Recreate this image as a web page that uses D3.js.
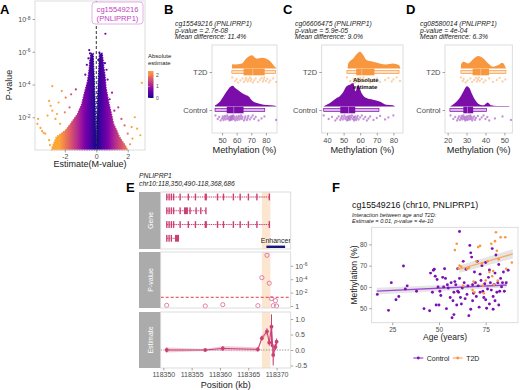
<!DOCTYPE html>
<html lang="en">
<head>
<meta charset="UTF-8">
<title>PNLIPRP1 methylation</title>
<script src="https://d3js.org/d3.v7.min.js"></script>
<style>
  body { margin: 0; background: #fff; }
  svg { font-family: "Liberation Sans", Arial, sans-serif; }
  .tick text { fill: #4d4d4d; font-size: 7px; }
  .tick line { stroke: #4d4d4d; stroke-width: 0.5; }
  .domain { display: none; }
  .frame { fill: none; stroke: #d4d4d4; stroke-width: 0.8; }
</style>
</head>
<body>
<div id="figure"></div>
<script>
// ---------- A: volcano ----------
// body of the volcano: spread of estimates at each -log10(p) level
const volcNlp   = [0, 0.2, 0.8, 1.2, 1.6, 2.2, 2.8, 3.4, 3.8, 4.2, 4.6, 5.0, 5.5, 5.9];
const volcLeft  = [-2.85, -2.8, -2.55, -1.96, -1.64, -1.2, -0.93, -0.78, -0.67, -0.56, -0.5, -0.45, -0.41, -0.34];
const volcRight = [2.0, 1.9, 1.48, 1.3, 1.1, 0.97, 0.82, 0.7, 0.62, 0.59, 0.55, 0.49, 0.43, 0.38];
const volcGap   = [0, 0, 0.01, 0.02, 0.03, 0.05, 0.07, 0.09, 0.11, 0.12, 0.14, 0.16, 0.18, 0.2];
// scattered CpGs outside the body [estimate, -log10 p]
const volcPoints = [
  [0.58, 7.1], [-0.45, 6.1], [-0.4, 5.9], [0.2, 5.95], [0.3, 5.8], [0.13, 5.5], [-0.5, 5.6],
  [0.55, 5.3], [-0.6, 5.2], [0.65, 4.9], [-0.7, 4.6], [0.72, 4.3],
  [-3.7, 1.9], [-3.75, 1.6], [-3.55, 1.35], [-3.45, 1.15], [-3.35, 1.05], [-3.25, 1.0],
  [-2.8, 3.9], [-2.2, 3.6], [-3.0, 3.0], [-2.9, 2.7], [-2.8, 2.4], [-1.95, 3.2], [-2.4, 2.9],
  [-1.6, 3.4], [-2.6, 1.9], [-2.5, 2.2], [-3.1, 2.1], [-2.3, 1.6], [-1.3, 3.7], [-1.7, 2.6],
  [-2.0, 2.3], [-3.0, 0.6], [-2.95, 0.3],
  [2.9, 4.1], [2.45, 2.0], [2.25, 1.4], [2.6, 1.3], [2.0, 1.0], [2.8, 0.9], [1.15, 2.4],
  [0.85, 3.1], [1.6, 1.9], [1.4, 2.6], [1.0, 3.5], [2.3, 0.7], [1.8, 1.5], [2.15, 0.35]
];
const volcXTicks = [-2, 0, 2];
const volcYTicks = [2, 4, 6, 8];
const legendTicks = [0, 1, 2];

// ---------- B-D: raincloud plots (methylation %) ----------
const groups = ["T2D", "Control"];
// B cg15549216
const bT2dDensX = [56.7, 57, 58.6, 63.6, 66.5, 70.5, 73.5, 77.4, 82, 84.3, 86.5, 87.2];
const bT2dDens  = [0, 0.2, 0.19, 0.24, 0.48, 0.64, 0.48, 0.52, 0.4, 0.24, 0.05, 0];
const bCtlDensX = [45.2, 48.6, 50.9, 53.2, 55.5, 57.4, 59.0, 61.3, 63.6, 65.9, 68.2, 70.5, 73.9, 78.5, 83.1, 87.0];
const bCtlDens  = [0.05, 0.24, 0.48, 0.73, 0.94, 1.0, 0.89, 0.77, 0.65, 0.56, 0.48, 0.29, 0.16, 0.08, 0.06, 0.02];
const bT2dBox = [56.7, 64.7, 71, 79.2, 86.5];
const bCtlBox = [45.2, 53.2, 58, 64.7, 79.2];
const bT2dPts = [57, 59, 60, 61, 62.5, 64, 65, 66, 66.5, 67.5, 68, 69, 69.5, 70, 71, 72, 73, 74.5, 76, 77, 78, 78.5, 79, 80, 81, 82, 83, 85, 87];
const bCtlPts = [45.5, 47, 48, 49, 50, 50.5, 51, 51.5, 52, 52.5, 53, 53.5, 54, 54.5, 55, 55.3, 55.7, 56, 56.3, 56.7, 57, 57.3,
  57.7, 58, 58.5, 59, 59.5, 60, 60.5, 61, 61.5, 62, 62.5, 63, 63.5, 64, 65, 65.5, 66, 67, 67.5, 68, 69, 70, 71, 72, 73, 75, 77, 79, 87];
// C cg06606475
const cT2dDensX = [52.4, 52.8, 55.8, 57.8, 59.8, 61.8, 63.8, 67.7, 71.7, 75.7, 79.7, 83.3, 84.3];
const cT2dDens  = [0, 0.24, 0.48, 0.68, 0.81, 0.65, 0.4, 0.32, 0.24, 0.19, 0.24, 0.16, 0];
const cCtlDensX = [37.8, 41.8, 45.8, 47.8, 49.8, 51.8, 53.8, 55.8, 57.2, 58.8, 60.8, 63.8, 67.7, 71.7, 75.7, 79.7, 81];
const cCtlDens  = [0, 0.16, 0.4, 0.5, 0.7, 0.97, 1.05, 1.13, 0.73, 1.05, 0.65, 0.4, 0.32, 0.24, 0.08, 0.05, 0];
const cT2dBox = [52.0, 57.6, 61, 68.6, 83.4];
const cCtlBox = [38.0, 48.0, 53, 57.0, 71.3];
const cT2dPts = [52, 54, 56, 57, 58, 58.5, 59, 59.5, 60, 60.5, 61, 62, 63, 64, 66, 68, 70, 72, 75, 77, 79, 80, 82, 84];
const cCtlPts = [38, 41, 43, 45, 46, 47, 48, 48.5, 49, 49.5, 50, 50.5, 51, 51.5, 52, 52.3, 52.7, 53, 53.3, 53.7, 54, 54.5,
  55, 55.5, 56, 56.3, 56.7, 57, 57.5, 58, 58.5, 59, 60, 61, 62, 63, 64, 65, 66, 68, 70, 72, 75, 77, 80];
// D cg08580014
const dT2dDensX = [27.0, 27.1, 28.3, 30.9, 33.6, 36.2, 38.9, 41.5, 44.1, 46.8, 48.9, 50.9];
const dT2dDens  = [0, 0.19, 0.32, 0.24, 0.45, 0.6, 0.48, 0.24, 0.08, 0.16, 0.27, 0];
const dCtlDensX = [21.2, 23.9, 25.6, 27.4, 28.8, 30.2, 31.5, 32.7, 34.5, 36.2, 38.9, 41.2, 42.9, 45.9, 52.1, 53.0];
const dCtlDens  = [0, 0.16, 0.32, 0.56, 0.8, 0.97, 0.89, 0.64, 0.32, 0.13, 0.05, 0.19, 0.05, 0.02, 0.02, 0];
const dT2dBox = [27.0, 33.2, 37.5, 41.9, 50.8];
const dCtlBox = [21.2, 28.3, 30.5, 33.5, 40.6];
const dT2dPts = [27, 28, 28.5, 29.5, 30.5, 32, 33, 34, 35, 35.5, 36, 36.5, 37, 38, 39, 40, 42, 44, 46, 47.5, 49, 50.5];
const dCtlPts = [21.5, 23, 24, 25, 25.5, 26, 26.5, 27, 27.3, 27.7, 28, 28.3, 28.7, 29, 29.3, 29.6, 30, 30.3, 30.6, 31, 31.3,
  31.7, 32, 32.3, 32.7, 33, 33.5, 34, 34.5, 35, 36, 37, 38, 39, 40, 41, 42, 45, 49, 53.5];

// ---------- E: region track (kb) ----------
const txStart = [118350.6, 118350.6, 118350.6, 118350.6];
const txEnd   = [118368.72, 118357.54, 118368.72, 118352.83];
const txExons = [
  [[0.55, 0.7], [0.95, 1.1], [1.35, 1.5], [1.75, 1.9], [2.9, 3.0], [4.35, 4.5], [5.6, 5.7], [7.35, 7.75], [9.5, 9.6],
   [10.55, 10.65], [12.3, 12.4], [13.5, 13.6], [14.95, 15.05], [16.45, 16.55], [18.65, 18.75]],
  [[0.55, 0.7], [0.95, 1.1], [1.35, 1.5], [1.75, 1.9], [2.9, 3.0], [3.7, 4.4], [4.65, 4.75], [5.72, 5.82], [6.55, 6.65], [7.45, 7.6]],
  [[0.55, 0.7], [0.95, 1.1], [1.35, 1.5], [1.75, 1.9], [2.9, 3.0], [4.35, 4.5], [5.6, 5.7], [7.35, 7.75], [9.5, 9.6],
   [10.55, 10.65], [12.3, 12.4], [13.5, 13.6], [14.95, 15.05], [16.45, 16.55], [18.65, 18.75]],
  [[0.55, 0.7], [0.95, 1.1], [1.35, 1.5], [2.12, 2.83]]
];
const enhancerBand = [118367.4, 118368.9];
const enhancerBar  = [118368.2, 118371.5];
const cpgPos  = [118350.6, 118357.4, 118360.5, 118366.7, 118367.4, 118368.3, 118368.7, 118369.1, 118369.4, 118369.8, 118370.0];
const cpgNlp  = [0.1, 0.0, 0.2, 0.05, 4.23, 7.57, 3.4, 1.1, 0.05, 0.8, 0.0];
const cpgEst  = [0.0, 0.0, 0.05, 0.02, 0.38, 0.6, 0.24, 0.75, -0.16, 0.1, 0.27];
const cpgLo   = [-0.08, -0.03, -0.03, -0.05, 0.3, 0.5, 0.14, 0.1, -0.5, 0.0, 0.17];
const cpgHi   = [0.08, 0.03, 0.13, 0.09, 0.46, 0.7, 0.34, 1.15, 0.18, 0.2, 0.37];
const sigNlp  = 1.3;
const posTicks = [118350, 118355, 118360, 118365, 118370];
const pTicks = [0, 2, 4, 6];
const estTicks = [-0.5, 0, 0.5, 1.0];

// ---------- F: age vs methylation ----------
const ctlAgeMeth = [
  [17, 56.5], [23, 49], [24.5, 62], [27, 54], [28.5, 55.5], [31, 69.8], [32, 59], [33, 60.5], [38, 58], [42, 49.8],
  [45, 48.8], [45.5, 66.5], [46.5, 57.5], [47, 67.8], [47.5, 68.3], [48, 65], [48.5, 51.5], [49, 63.5], [49.5, 60],
  [50, 51.5], [50.5, 58], [51, 56], [52, 64.5], [52.5, 60], [53, 68.5], [53.5, 64], [54, 49.8], [54.5, 61], [55, 59.5],
  [56, 55], [56.5, 62], [57, 45.5], [57.5, 53.5], [58, 47], [58, 57.5], [58.5, 62.5], [59, 61], [59.5, 51.5], [60, 68.5],
  [60, 58], [60.5, 57.5], [61, 86], [61, 64], [61.5, 55], [62, 52], [62.5, 59.5], [63, 72], [63.5, 62], [64, 54.5],
  [64.5, 68.3], [65, 56.5], [65.5, 60.5], [66, 46.5], [66.5, 79.5], [67, 49.5], [67, 76], [67.5, 74], [68, 61], [68, 53.5],
  [68.5, 57], [69, 67], [69.5, 62], [70, 55.5], [70.5, 72], [71, 60.5], [71.5, 50.5], [72, 57.5], [72, 66], [72.5, 63],
  [73, 70], [73.5, 58], [74, 55], [74.5, 61.5], [75, 71.5], [75, 54], [75.5, 50], [76, 59], [76.5, 64.5], [77, 68],
  [77, 52], [77.5, 62], [78, 58.5], [78.5, 78], [79, 55.5], [79, 49.5], [79.5, 61], [80, 66.5], [80, 53.5], [80.5, 75],
  [81, 57.5], [81.5, 62], [82, 51.5], [82, 70.5], [82.5, 58], [83, 64], [83.5, 60], [84, 62], [84.5, 67], [85, 58],
  [86, 62], [87, 67.8]
];
const t2dAgeMeth = [
  [58.5, 77.3], [59.5, 80.3], [60.5, 68.5], [61, 70], [62, 69.5], [63, 60.5], [65, 68.5], [66, 69], [68, 58.5],
  [68.5, 62.5], [69, 57.5], [70, 72], [71, 78.7], [72, 79.3], [73, 71], [73.5, 60.5], [74, 57], [75, 63], [76, 72],
  [77, 67], [78, 80.3], [78.5, 65], [79, 67.5], [79.5, 61], [80, 81.5], [80.5, 85.7], [81, 77], [81.5, 63], [82, 73],
  [83, 83.3], [85.5, 83.3], [86, 68.5], [89, 71.5]
];
const ctlFit = [[16.7, 58.0, 1.6], [86.3, 60.9, 1.2]];   // age, fitted, half CI
const t2dFit = [[60.9, 68.3, 1.8], [89.5, 75.5, 2.2]];
const ageTicks = [25, 50, 75];
const methTicks = [50, 60, 70, 80];

// ---------- drawing ----------
const purple = "#7b0ea8", orange = "#f8973e", geneCol = "#cc3f73";
const svg = d3.select("#figure").append("svg").attr("width", 520).attr("height", 390);
const defs = svg.append("defs");
const plasma = a => d3.interpolatePlasma(Math.min(a / 2.35, 1) * 0.8);

function letter(t, x, y) {
  svg.append("text").attr("x", x).attr("y", y).attr("font-size", 13).attr("font-weight", "bold").attr("fill", "#000").text(t);
}
function supLabels(sel, fmt, size) {
  sel.selectAll(".tick text").each(function (d) {
    const t = d3.select(this).text("");
    const s = fmt(d);
    if (s === null) { t.text("1"); return; }
    t.append("tspan").text("10");
    t.append("tspan").attr("dy", "-0.45em").style("font-size", size + "px").text(s);
  });
}

// ===== A =====
letter("A", 0, 14);
const ax = d3.scaleLinear().domain([-3.9, 3.1]).range([35, 145]);
const ay = d3.scaleLinear().domain([0, 9.1]).range([150, 1]);
const vg = defs.append("linearGradient").attr("id", "volcFill").attr("gradientUnits", "userSpaceOnUse")
  .attr("x1", ax.range()[0]).attr("x2", ax.range()[1]).attr("y1", 0).attr("y2", 0);
d3.range(0, 1.0001, 0.02).forEach(t => {
  const e = ax.domain()[0] + t * (ax.domain()[1] - ax.domain()[0]);
  vg.append("stop").attr("offset", t).attr("stop-color", plasma(Math.abs(e)));
});
const outline = [];
volcNlp.forEach((v, i) => outline.push([volcLeft[i], v]));
volcNlp.slice().reverse().forEach((v, k) => { const i = volcNlp.length - 1 - k; outline.push([-volcGap[i], v]); });
volcNlp.forEach((v, i) => outline.push([volcGap[i], v]));
volcNlp.slice().reverse().forEach((v, k) => { const i = volcNlp.length - 1 - k; outline.push([volcRight[i], v]); });
svg.append("path").attr("d", d3.line().x(d => ax(d[0])).y(d => ay(d[1]))(outline) + "Z")
  .attr("fill", "url(#volcFill)").attr("stroke", "url(#volcFill)").attr("stroke-width", 1.2)
  .attr("stroke-dasharray", "1.5,1");
svg.append("g").selectAll("circle").data(volcPoints).join("circle")
  .attr("cx", d => ax(d[0])).attr("cy", d => ay(d[1])).attr("r", 1.1)
  .attr("fill", d => plasma(Math.abs(d[0])));
svg.append("line").attr("x1", ax(0)).attr("x2", ax(0)).attr("y1", ay.range()[1]).attr("y2", ay.range()[0])
  .attr("stroke", "#333").attr("stroke-width", 1).attr("stroke-dasharray", "3,2");
svg.append("rect").attr("class", "frame").attr("x", 35).attr("y", 1).attr("width", 110).attr("height", 149);
svg.append("g").attr("transform", "translate(0,150)")
  .call(d3.axisBottom(ax).tickValues(volcXTicks).tickSize(2.5).tickPadding(2).tickFormat(d => String(d)));
const ayA = svg.append("g").attr("transform", "translate(35,0)").call(d3.axisLeft(ay).tickValues(volcYTicks).tickSize(2.5).tickPadding(2));
supLabels(ayA, d => "-" + d, 5);
svg.append("text").attr("x", 90).attr("y", 167).attr("text-anchor", "middle").attr("font-size", 9).attr("fill", "#222").text("Estimate(M-value)");
svg.append("text").attr("transform", "translate(12,85) rotate(-90)").attr("text-anchor", "middle").attr("font-size", 9).attr("fill", "#222").text("P-value");
// label box
svg.append("rect").attr("x", 92).attr("y", 2).attr("width", 51).attr("height", 22).attr("rx", 3)
  .attr("fill", "#fff").attr("stroke", "#e2a6e2").attr("stroke-width", 0.9);
svg.append("text").attr("x", 117.5).attr("y", 11.5).attr("text-anchor", "middle").attr("font-size", 7.6).attr("fill", "#c13ec1").text("cg15549216");
svg.append("text").attr("x", 117.5).attr("y", 21).attr("text-anchor", "middle").attr("font-size", 7.6).attr("fill", "#c13ec1").text("(PNLIPRP1)");
// colour legend
svg.append("text").attr("x", 148).attr("y", 58).attr("font-size", 6).attr("fill", "#222").text("Absolute");
svg.append("text").attr("x", 148).attr("y", 64.5).attr("font-size", 6).attr("fill", "#222").text("estimate");
const ly = d3.scaleLinear().domain([0, 2.35]).range([98, 71]);
const lg = defs.append("linearGradient").attr("id", "legFill").attr("x1", 0).attr("x2", 0).attr("y1", 1).attr("y2", 0);
d3.range(0, 1.0001, 0.1).forEach(t => lg.append("stop").attr("offset", t).attr("stop-color", plasma(t * 2.35)));
svg.append("rect").attr("x", 148).attr("y", 71).attr("width", 5.5).attr("height", 27).attr("fill", "url(#legFill)");
legendTicks.forEach(v => {
  svg.append("line").attr("x1", 148).attr("x2", 149.5).attr("y1", ly(v)).attr("y2", ly(v)).attr("stroke", "#fff").attr("stroke-width", 0.5);
  svg.append("text").attr("x", 156).attr("y", ly(v) + 1.8).attr("font-size", 5).attr("fill", "#4d4d4d").text(v);
});

// ===== B, C, D =====
const densH = 20.7;
const catY = d3.scaleOrdinal(groups, [72, 110]);
function raincloud(p) {
  letter(p.letter, p.letterX, 14);
  p.sub.forEach((s, i) => svg.append("text").attr("x", p.subX).attr("y", 26 + i * 6.6)
    .attr("font-size", 6.8).attr("font-style", "italic").attr("fill", "#222").text(s));
  const x = d3.scaleLinear().domain(p.domain).range([p.left, p.right]);
  const g = svg.append("g");
  g.append("rect").attr("class", "frame").attr("x", p.left).attr("y", 45).attr("width", p.right - p.left).attr("height", 88);
  p.series.forEach(s => {
    const c = catY(s.name), base = c - 3.6;
    const pts = s.densX.map((v, i) => [v, s.dens[i]]);
    g.append("path").datum(pts).attr("fill", s.color)
      .attr("d", d3.area().x(d => x(d[0])).y0(base).y1(d => base - d[1] * densH).curve(d3.curveMonotoneX));
    g.append("rect").attr("x", x(s.box[0])).attr("y", c - 1.4).attr("width", x(s.box[4]) - x(s.box[0])).attr("height", 2.8)
      .attr("fill", s.color).attr("fill-opacity", 0.3).attr("stroke", s.color).attr("stroke-width", 0.7);
    g.append("rect").attr("x", x(s.box[1])).attr("y", c - 3.3).attr("width", x(s.box[3]) - x(s.box[1])).attr("height", 6.6)
      .attr("fill", s.color);
    g.append("line").attr("x1", x(s.box[2])).attr("x2", x(s.box[2])).attr("y1", c - 3.3).attr("y2", c + 3.3)
      .attr("stroke", "#fff").attr("stroke-opacity", 0.5).attr("stroke-width", 0.7);
    g.selectAll(null).data(s.pts).join("circle")
      .attr("cx", d => x(d)).attr("cy", (d, i) => c + 5.5 + ((i * 7) % 11) / 10 * 5)
      .attr("r", 1.15).attr("fill", s.color).attr("fill-opacity", 0.45);
  });
  const xa = g.append("g").attr("transform", "translate(0,133)").call(d3.axisBottom(x).tickValues(p.ticks).tickSize(2.5).tickPadding(2));
  xa.selectAll("text").style("font-size", "7.5px");
  const ya = g.append("g").attr("transform", `translate(${p.left},0)`).call(d3.axisLeft(catY).tickSize(2.5).tickPadding(2));
  ya.selectAll("text").style("font-size", "7.5px");
  g.append("text").attr("x", (p.left + p.right) / 2).attr("y", 153).attr("text-anchor", "middle")
    .attr("font-size", 9.2).attr("fill", "#222").text("Methylation (%)");
}
raincloud({
  letter: "B", letterX: 164, subX: 175, left: 212, right: 277, domain: [43.1, 87.6], ticks: [50, 60, 70, 80],
  sub: ["cg15549216 (PNLIPRP1)", "p-value = 2.7e-08", "Mean difference: 11.4%"],
  series: [
    { name: "T2D", color: orange, densX: bT2dDensX, dens: bT2dDens, box: bT2dBox, pts: bT2dPts },
    { name: "Control", color: purple, densX: bCtlDensX, dens: bCtlDens, box: bCtlBox, pts: bCtlPts }
  ]
});
raincloud({
  letter: "C", letterX: 283, subX: 295, left: 321.7, right: 403, domain: [36.8, 85.8], ticks: [40, 50, 60, 70, 80],
  sub: ["cg06606475 (PNLIPRP1)", "p-value = 5.9e-05", "Mean difference: 9.0%"],
  series: [
    { name: "T2D", color: orange, densX: cT2dDensX, dens: cT2dDens, box: cT2dBox, pts: cT2dPts },
    { name: "Control", color: purple, densX: cCtlDensX, dens: cCtlDens, box: cCtlBox, pts: cCtlPts }
  ]
});
raincloud({
  letter: "D", letterX: 406, subX: 420, left: 445, right: 512.3, domain: [18.6, 54.2], ticks: [20, 30, 40, 50],
  sub: ["cg08580014 (PNLIPRP1)", "p-value = 4e-04", "Mean difference: 6.3%"],
  series: [
    { name: "T2D", color: orange, densX: dT2dDensX, dens: dT2dDens, box: dT2dBox, pts: dT2dPts },
    { name: "Control", color: purple, densX: dCtlDensX, dens: dCtlDens, box: dCtlBox, pts: dCtlPts }
  ]
});
// stray legend title sitting over panel C
svg.append("text").attr("x", 353).attr("y", 82).attr("font-size", 6).attr("font-weight", "bold").attr("fill", "#111").text("Absolute");
svg.append("text").attr("x", 353).attr("y", 88.5).attr("font-size", 6).attr("font-weight", "bold").attr("fill", "#111").text("estimate");

// ===== E =====
letter("E", 126, 192);
svg.append("text").attr("x", 139).attr("y", 178).attr("font-size", 6.8).attr("font-style", "italic").attr("fill", "#222").text("PNLIPRP1");
svg.append("text").attr("x", 139).attr("y", 185.5).attr("font-size", 6.8).attr("font-style", "italic").attr("fill", "#222").text("chr10:118,350,490-118,368,686");
const ex = d3.scaleLinear().domain([118350, 118370]).range([163.3, 276.6]);
const eL = 160.7, eR = 290.7;
const facets = [["Gene", 192, 249], ["P-value", 252, 308], ["Estimate", 312, 368]];
facets.forEach(([name, y0, y1]) => {
  svg.append("rect").attr("x", 139).attr("y", y0).attr("width", 21.5).attr("height", y1 - y0).attr("fill", "#ababab");
  svg.append("text").attr("transform", `translate(${152.5},${(y0 + y1) / 2}) rotate(-90)`).attr("text-anchor", "middle")
    .attr("font-size", 7).attr("fill", "#fff").text(name);
  svg.append("rect").attr("x", ex(enhancerBand[0])).attr("y", y0).attr("width", ex(enhancerBand[1]) - ex(enhancerBand[0]))
    .attr("height", y1 - y0).attr("fill", "#fde2c8").attr("fill-opacity", 0.85);
});
// gene models
const rowY = d3.scalePoint().domain(d3.range(txStart.length)).range([197, 238.3]);
txStart.forEach((s, r) => {
  const y = rowY(r);
  svg.append("line").attr("x1", ex(s)).attr("x2", ex(txEnd[r])).attr("y1", y).attr("y2", y)
    .attr("stroke", geneCol).attr("stroke-width", 1).attr("stroke-dasharray", "1.4,0.8");
  svg.append("g").selectAll("rect").data(txExons[r]).join("rect")
    .attr("x", d => ex(118350 + d[0]) - 0.3)
    .attr("width", d => Math.max(1.4, ex(118350 + d[1]) - ex(118350 + d[0])))
    .attr("y", y - 3.4).attr("height", 6.8).attr("fill", geneCol);
});
svg.append("rect").attr("x", ex(enhancerBar[0])).attr("y", 245.6).attr("width", ex(enhancerBar[1]) - ex(enhancerBar[0]))
  .attr("height", 2.4).attr("fill", "#16167a");
svg.append("text").attr("x", ex((enhancerBar[0] + enhancerBar[1]) / 2)).attr("y", 242.5).attr("text-anchor", "middle")
  .attr("font-size", 7).attr("fill", "#222").text("Enhancer");
// p-value facet
const py = d3.scaleLinear().domain([0, 8]).range([306, 252.4]);
svg.append("line").attr("x1", eL).attr("x2", eR).attr("y1", py(sigNlp)).attr("y2", py(sigNlp))
  .attr("stroke", "#e23b3b").attr("stroke-width", 1).attr("stroke-dasharray", "3,2");
svg.append("g").selectAll("circle").data(cpgPos).join("circle")
  .attr("cx", d => ex(d)).attr("cy", (d, i) => py(cpgNlp[i])).attr("r", 2.1)
  .attr("fill", "none").attr("stroke", "#e0709f").attr("stroke-width", 0.9);
const pa = svg.append("g").attr("transform", `translate(${eR},0)`).call(d3.axisRight(py).tickValues(pTicks).tickSize(2.5).tickPadding(2));
supLabels(pa, d => d === 0 ? null : "-" + d, 5);
// estimate facet
const ey = d3.scaleLinear().domain([-0.5, 1.0]).range([365.5, 319]);
svg.append("line").attr("x1", eL).attr("x2", eR).attr("y1", ey(0)).attr("y2", ey(0))
  .attr("stroke", "#888").attr("stroke-width", 1).attr("stroke-dasharray", "1.2,1.5");
const estRows = cpgPos.map((p, i) => ({ p, e: cpgEst[i], lo: cpgLo[i], hi: cpgHi[i] }));
svg.append("path").datum(estRows).attr("fill", "#e79ab8").attr("fill-opacity", 0.5)
  .attr("d", d3.area().x(d => ex(d.p)).y0(d => ey(d.lo)).y1(d => ey(d.hi)));
svg.append("path").datum(estRows).attr("fill", "none").attr("stroke", geneCol).attr("stroke-width", 1)
  .attr("d", d3.line().x(d => ex(d.p)).y(d => ey(d.e)));
svg.append("g").selectAll("line").data(estRows).join("line")
  .attr("x1", d => ex(d.p)).attr("x2", d => ex(d.p)).attr("y1", d => ey(d.lo)).attr("y2", d => ey(d.hi))
  .attr("stroke", geneCol).attr("stroke-width", 1);
svg.append("g").selectAll("circle").data(estRows).join("circle")
  .attr("cx", d => ex(d.p)).attr("cy", d => ey(d.e)).attr("r", 1.9).attr("fill", geneCol);
svg.append("g").attr("transform", `translate(${eR},0)`).call(d3.axisRight(ey).tickValues(estTicks).tickSize(2.5).tickPadding(2)
  .tickFormat(d => d.toFixed(1)));
facets.forEach(([, y0, y1]) => svg.append("rect").attr("class", "frame").attr("x", eL).attr("y", y0).attr("width", eR - eL).attr("height", y1 - y0));
svg.append("g").attr("transform", "translate(0,368)").call(d3.axisBottom(ex).tickValues(posTicks).tickSize(2.5).tickPadding(2).tickFormat(d3.format("d")));
svg.append("text").attr("x", (eL + eR) / 2).attr("y", 388).attr("text-anchor", "middle").attr("font-size", 9).attr("fill", "#222").text("Position (kb)");

// ===== F =====
letter("F", 332, 192);
svg.append("text").attr("x", 352).attr("y", 207.5).attr("font-size", 8.8).attr("fill", "#111").text("cg15549216 (chr10, PNLIPRP1)");
svg.append("text").attr("x", 352).attr("y", 216.5).attr("font-size", 5.6).attr("font-style", "italic").attr("fill", "#222").text("Interaction between age and T2D:");
svg.append("text").attr("x", 352).attr("y", 222.5).attr("font-size", 5.6).attr("font-style", "italic").attr("fill", "#222").text("Estimate = 0.01, p-value = 4e-10");
const fx = d3.scaleLinear().domain([14, 92.3]).range([371.7, 518]);
const fy = d3.scaleLinear().domain([43.2, 88]).range([322.7, 227.3]);
svg.append("rect").attr("class", "frame").attr("x", 371.7).attr("y", 227.3).attr("width", 146.3).attr("height", 95.4);
[[ctlFit, "#9d45d6"], [t2dFit, "#f9aa66"]].forEach(([fit, col]) => {
  svg.append("path").datum(fit).attr("fill", "#999").attr("fill-opacity", 0.25)
    .attr("d", d3.area().x(d => fx(d[0])).y0(d => fy(d[1] - d[2])).y1(d => fy(d[1] + d[2])));
  svg.append("path").datum(fit).attr("fill", "none").attr("stroke", col).attr("stroke-width", 1.3)
    .attr("d", d3.line().x(d => fx(d[0])).y(d => fy(d[1])));
});
svg.append("g").selectAll("circle").data(ctlAgeMeth).join("circle")
  .attr("cx", d => fx(d[0])).attr("cy", d => fy(d[1])).attr("r", 1.45).attr("fill", "#7a10b4");
svg.append("g").selectAll("circle").data(t2dAgeMeth).join("circle")
  .attr("cx", d => fx(d[0])).attr("cy", d => fy(d[1])).attr("r", 1.3).attr("fill", orange);
const fxa = svg.append("g").attr("transform", "translate(0,322.7)").call(d3.axisBottom(fx).tickValues(ageTicks).tickSize(2.5).tickPadding(2));
fxa.selectAll("text").style("font-size", "6.5px");
const fya = svg.append("g").attr("transform", "translate(371.7,0)").call(d3.axisLeft(fy).tickValues(methTicks).tickSize(2.5).tickPadding(2));
fya.selectAll("text").style("font-size", "6.5px");
svg.append("text").attr("x", 445).attr("y", 340).attr("text-anchor", "middle").attr("font-size", 8.5).attr("fill", "#222").text("Age (years)");
svg.append("text").attr("transform", "translate(357,275) rotate(-90)").attr("text-anchor", "middle").attr("font-size", 8.5).attr("fill", "#222").text("Methylation (%)");
// legend
[["Control", "#9d45d6", "#7a10b4", 413.3], ["T2D", "#f9aa66", orange, 452.7]].forEach(([name, lc, pc, x0]) => {
  svg.append("line").attr("x1", x0).attr("x2", x0 + 10).attr("y1", 358).attr("y2", 358).attr("stroke", lc).attr("stroke-width", 1.2);
  svg.append("circle").attr("cx", x0 + 5).attr("cy", 358).attr("r", 1.4).attr("fill", pc);
  svg.append("text").attr("x", x0 + 13.5).attr("y", 360.5).attr("font-size", 7).attr("fill", "#222").text(name);
});
</script>
</body>
</html>
